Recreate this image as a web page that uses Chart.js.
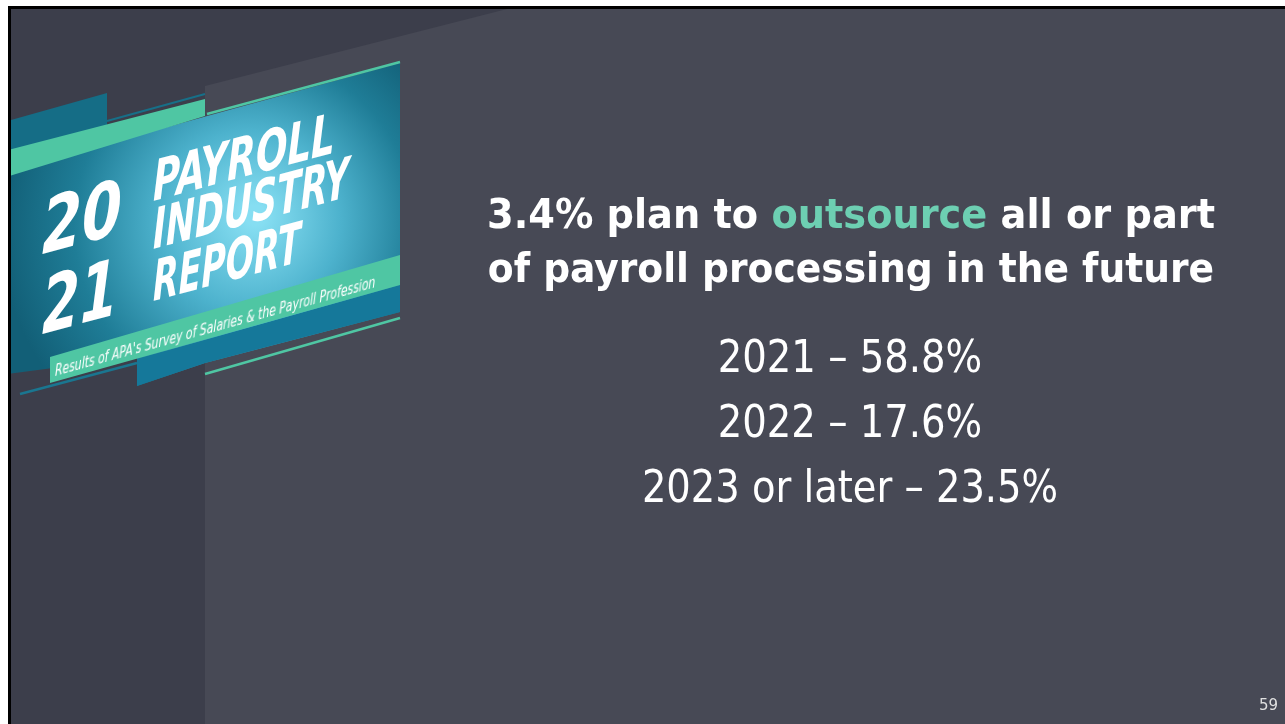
<!DOCTYPE html>
<html>
<head>
<meta charset="utf-8">
<script src="https://cdn.jsdelivr.net/npm/chart.js@4.4.0/dist/chart.umd.min.js"></script>
<style>
  html, body { margin: 0; padding: 0; background: #fff; overflow: hidden; }
  #wrap { position: relative; width: 1285px; height: 724px; }
  #slide { position: absolute; left: 0; top: 0; }
  .t { position: absolute; white-space: nowrap; color: #fff; line-height: 1; }
  .logo { font-family: "DejaVu Sans Condensed", "DejaVu Sans", sans-serif; font-weight: bold; font-style: italic;
          transform-origin: 0 0.846em; }
  .head { font-family: "DejaVu Sans Condensed", "DejaVu Sans", sans-serif; font-weight: bold; font-size: 40px; }
  .head span { color: #6dcfb2; }
  .row { font-family: "Liberation Sans Narrow", "DejaVu Sans Condensed", sans-serif; font-size: 45px; }
  #pg { font-family: "DejaVu Sans", sans-serif; font-size: 15px; color: #e0e0e0; left: 1259px; top: 698px; }
</style>
</head>
<body>
<div id="wrap">
  <canvas id="slide" width="1285" height="724"></canvas>

  <div class="t logo" id="l20" style="font-size:76px">20</div>
  <div class="t logo" id="l21" style="font-size:78px">21</div>
  <div class="t logo" id="lpay" style="font-size:56px">PAYROLL</div>
  <div class="t logo" id="lind" style="font-size:56px">INDUSTRY</div>
  <div class="t logo" id="lrep" style="font-size:56px">REPORT</div>
  <div class="t logo" id="lsub" style="font-size:16px;font-weight:normal">Results of APA's Survey of Salaries &amp; the Payroll Profession</div>

  <div class="t head" id="h1"></div>
  <div class="t head" id="h2">of payroll processing in the future</div>
  <div id="rows"></div>
  <div class="t" id="pg">59</div>
</div>

<script>
// survey values
var planShare = 3.4;
var categories = ['2021', '2022', '2023 or later'];
var shares = [58.8, 17.6, 23.5];
var rowLabels = categories.map(function (c, i) { return c + ' \u2013 ' + shares[i].toFixed(1) + '%'; });

document.getElementById('h1').innerHTML = planShare + '% plan to <span>outsource</span> all or part';

// squeeze a text box to a width, keeping its anchor
function fit(el, w, extra) {
  var k = w / el.offsetWidth;
  el.style.transform = (extra || '') + ' scaleX(' + k.toFixed(3) + ')';
}

// logo text: baseline-left point, skewed along the sign
function logoText(id, x, y, w, ang) {
  var el = document.getElementById(id);
  var fs = parseFloat(el.style.fontSize);
  el.style.left = x + 'px';
  el.style.top = (y - 0.846 * fs) + 'px';
  fit(el, w, 'skewY(' + ang + 'deg)');
}
logoText('l20', 42, 254, 80, -15);
logoText('l21', 42, 334, 76, -15);
logoText('lpay', 153, 201, 182, -15);
logoText('lind', 153, 249, 196, -15);
logoText('lrep', 153, 301, 148, -15);
logoText('lsub', 55, 377, 320, -15.5);

function headLine(id, cy, w) {
  var el = document.getElementById(id);
  el.style.left = '851px';
  el.style.top = cy + 'px';
  el.style.transformOrigin = '0 0';
  var k = w / el.offsetWidth;
  el.style.transform = 'scaleX(' + k.toFixed(3) + ') translate(-50%, -50%)';
}
headLine('h1', 214, 728);
headLine('h2', 268, 726);

var rowsBox = document.getElementById('rows');
var rowEls = rowLabels.map(function (txt) {
  var d = document.createElement('div');
  d.className = 't row';
  d.textContent = txt;
  rowsBox.appendChild(d);
  return d;
});
var rowWidths = [265, 265, 416];

function poly(ctx, pts, fill) {
  ctx.beginPath();
  ctx.moveTo(pts[0][0], pts[0][1]);
  for (var i = 1; i < pts.length; i++) ctx.lineTo(pts[i][0], pts[i][1]);
  ctx.closePath();
  ctx.fillStyle = fill;
  ctx.fill();
}
function seg(ctx, a, b, col, w) {
  ctx.beginPath();
  ctx.moveTo(a[0], a[1]);
  ctx.lineTo(b[0], b[1]);
  ctx.strokeStyle = col;
  ctx.lineWidth = w;
  ctx.stroke();
}

var slideBg = {
  id: 'slideBg',
  beforeDraw: function (chart) {
    var c = chart.ctx;
    c.save();
    c.fillStyle = '#ffffff';
    c.fillRect(0, 0, 1285, 724);
    c.fillStyle = '#000000';
    c.fillRect(8, 6, 1277, 718);
    c.fillStyle = '#474955';
    c.fillRect(11, 9, 1274, 715);
    poly(c, [[11, 9], [507, 9], [205, 86], [205, 724], [11, 724]], '#3c3e4b');

    // sign
    c.save();
    c.beginPath();
    c.rect(11, 9, 1274, 715);
    c.clip();
    poly(c, [[0, 123], [107, 93], [107, 140], [0, 170]], '#156d86');
    seg(c, [107, 121], [205, 94], '#176f88', 2);
    var g = c.createRadialGradient(255, 215, 10, 240, 230, 240);
    g.addColorStop(0, '#86def2');
    g.addColorStop(0.35, '#4db2cd');
    g.addColorStop(0.7, '#1f7d97');
    g.addColorStop(1, '#125f77');
    poly(c, [[0, 173], [400, 63], [400, 312], [205, 363], [137, 386], [137, 357], [0, 375]], g);
    poly(c, [[137, 386], [137, 359], [400, 285], [400, 312], [205, 363]], '#15789a');
    seg(c, [207, 114], [400, 62], '#4fc6a3', 2.5);
    poly(c, [[0, 152], [205, 99], [205, 116], [0, 179]], '#4fc6a3');
    poly(c, [[50, 357], [400, 255], [400, 285], [50, 383]], '#4fc6a3');
    seg(c, [20, 394], [137, 363], '#1a7690', 2.5);
    seg(c, [205, 374], [400, 318], '#4fc6a3', 2.5);
    c.restore();
    c.restore();
  },
  afterDraw: function (chart) {
    var y = chart.scales.y;
    rowEls.forEach(function (el, i) {
      el.style.left = '850px';
      el.style.top = y.getPixelForValue(i) + 'px';
      el.style.transformOrigin = '0 0';
      var k = rowWidths[i] / el.offsetWidth;
      el.style.transform = 'scaleX(' + k.toFixed(3) + ') translate(-50%, -50%)';
    });
  }
};

var ctx = document.getElementById('slide').getContext('2d');
var myChart = new Chart(ctx, {
  type: 'bar',
  data: {
    labels: rowLabels,
    datasets: [{
      label: 'Timing of outsourcing',
      data: shares,
      backgroundColor: 'rgba(0,0,0,0)'
    }]
  },
  options: {
    responsive: false,
    animation: false,
    indexAxis: 'y',
    layout: { padding: { top: 323, bottom: 205, left: 600, right: 200 } },
    scales: {
      x: { display: false, min: 0, max: 100 },
      y: { display: false }
    },
    plugins: { legend: { display: false }, tooltip: { enabled: false } }
  },
  plugins: [slideBg]
});
</script>
</body>
</html>
